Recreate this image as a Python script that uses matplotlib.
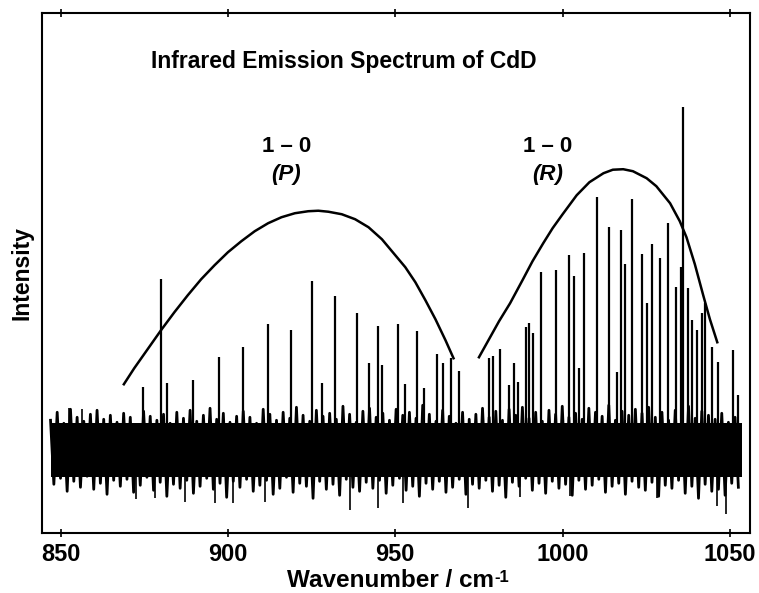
import numpy as np
import matplotlib.pyplot as plt

plt.rcParams['font.family'] = ['Liberation Sans', 'DejaVu Sans']
plt.rcParams['font.weight'] = 'bold'

# noise band: upper and lower excursions, read every ~2 cm-1 from 847 to 1053.5
noise_top = [30, 38, 27, 41, 33, 29, 36, 40, 31, 35,
             28, 37, 33, 25, 39, 34, 30, 36, 27, 38,
             32, 40, 29, 35, 42, 31, 37, 28, 34, 39,
             33, 27, 41, 36, 30, 38, 32, 43, 35, 29,
             40, 34, 37, 31, 44, 36, 28, 39, 42, 33,
             37, 30, 41, 35, 38, 32, 45, 36, 29, 40,
             34, 27, 38, 31, 36, 42, 33, 39, 30, 41,
             35, 43, 32, 38, 29, 40, 36, 44, 33, 37,
             31, 42, 38, 34, 45, 30, 39, 35, 41, 37,
             43, 33, 38, 30, 40, 36, 44, 32, 39, 35,
             31, 37, 28, 33]
noise_bot = [-34, -28, -41, -31, -37, -26, -39, -33, -44, -30,
             -36, -29, -42, -35, -27, -40, -32, -46, -34, -38,
             -30, -43, -36, -28, -39, -33, -47, -31, -37, -29,
             -41, -35, -30, -44, -38, -27, -42, -33, -36, -48,
             -31, -39, -34, -45, -29, -37, -41, -32, -38, -30,
             -43, -35, -28, -40, -36, -46, -33, -39, -31, -42,
             -37, -29, -44, -34, -38, -30, -41, -35, -47, -32,
             -36, -28, -40, -33, -43, -31, -38, -34, -45, -30,
             -39, -35, -29, -42, -36, -33, -44, -31, -37, -40,
             -32, -46, -35, -38, -30, -43, -36, -48, -34, -41,
             -39, -45, -33, -37]
noise_start, noise_end = 847.0, 1053.5

# single noise spikes reaching past the band
spike_dn_wn = [872.4, 878.3, 887.3, 896.2, 901.6, 911.2, 936.5, 944.9, 952.4,
               971.8, 987.3, 1002.2, 1028.1, 1046.0, 1048.8]
spike_dn_h = [-49, -48, -52, -53, -53, -52, -60, -58, -53, -58, -47, -46, -48, -56, -64]
spike_up_wn = [852.4, 856.5]
spike_up_h = [42, 41]

# rotational lines
line_wn = [874.5, 880.1, 881.9, 889.6, 897.2, 904.5, 911.9, 918.7, 925.2, 928.2,
           931.9, 938.5, 942.1, 944.7, 946.0, 950.7, 953.0, 956.6, 958.7, 962.4,
           964.2, 966.6, 968.9,
           978.1, 979.1, 981.3, 984.1, 985.5, 986.8, 989.0, 990.1, 991.1, 993.5,
           997.9, 1002.0, 1003.4, 1004.8, 1006.4, 1010.2, 1013.9, 1016.3, 1017.4,
           1018.6, 1020.6, 1023.6, 1025.1, 1026.6, 1029.1, 1031.6, 1033.9, 1035.5,
           1035.9, 1037.6, 1038.8, 1040.2, 1041.6, 1042.5, 1044.5, 1046.5, 1050.8,
           1052.5]
line_h = [63, 171, 67, 70, 93, 103, 126, 120, 169, 67,
          154, 137, 87, 124, 85, 126, 66, 119, 62, 96,
          87, 92, 79,
          92, 94, 101, 65, 87, 68, 123, 127, 117, 178,
          180, 195, 174, 82, 197, 253, 223, 78, 220,
          186, 251, 196, 147, 206, 192, 227, 163, 183,
          343, 162, 130, 120, 137, 147, 103, 88, 100,
          55]

# envelope curves drawn over the branches
p_env_wn = [868.9, 872, 876, 880, 884, 888, 892, 896, 900, 904, 908, 912, 916, 920,
            924, 927, 930, 934, 938, 942, 946, 950, 953, 956, 959, 962, 965, 967.4]
p_env_h = [66, 82, 101, 120, 138, 155, 171, 185, 198, 209, 219, 227, 233, 237,
           239, 239.5, 238.5, 236, 231, 223, 211, 195, 183, 168, 150, 131, 110, 92]
r_env_wn = [975.0, 978, 981, 984.3, 988, 991, 994.2, 997, 1000, 1004.2, 1008, 1012.2,
            1015, 1018.1, 1021, 1025.1, 1028, 1032.1, 1035, 1037, 1039.5, 1042, 1044, 1046.2]
r_env_h = [93, 111, 129, 147, 170, 189, 207, 222, 236, 255, 268, 277,
           280.5, 281, 279, 272, 264, 247, 229, 213, 186, 155, 131, 108]

fig = plt.figure(figsize=(7.59, 5.93), dpi=100)
ax = fig.add_axes([0.0553, 0.1007, 0.9328, 0.8779])

# noise trace zig-zags between the read upper and lower excursions
n = len(noise_top)
step = (noise_end - noise_start) / n
zx, zy = [], []
for i in range(n):
    zx += [noise_start + i * step, noise_start + (i + 0.5) * step]
    zy += [noise_top[i], noise_bot[i]]
core = 27
ax.fill_between([noise_start, noise_end], [-core, -core], [core, core], color='black', lw=0)
ax.plot(zx, zy, color='black', lw=2.0)
ax.vlines(spike_dn_wn, 0, spike_dn_h, color='black', lw=1.2)
ax.vlines(spike_up_wn, 0, spike_up_h, color='black', lw=1.2)
ax.vlines(line_wn, 0, line_h, color='black', lw=1.6)

ax.plot(p_env_wn, p_env_h, color='black', lw=1.8)
ax.plot(r_env_wn, r_env_h, color='black', lw=1.8)

ax.text(934.7, 389, 'Infrared Emission Spectrum of CdD', ha='center', va='center',
        fontsize=16.5, fontweight='bold')
ax.text(917.4, 304, '1 \u2013 0', ha='center', va='center', fontsize=16, fontweight='bold')
ax.text(917.4, 276, '(P)', ha='center', va='center', fontsize=16, fontweight='bold', style='italic')
ax.text(995.4, 304, '1 \u2013 0', ha='center', va='center', fontsize=16, fontweight='bold')
ax.text(995.4, 276, '(R)', ha='center', va='center', fontsize=16, fontweight='bold', style='italic')

ax.set_xlim(844.44, 1055.97)
ax.set_ylim(-83, 437.5)
ax.set_xticks([850, 900, 950, 1000, 1050])
ax.set_yticks([])
ax.tick_params(axis='x', direction='inout', length=6, width=1.2, top=True,
               labelsize=17, pad=4)
for lab in ax.get_xticklabels():
    lab.set_fontweight('bold')
for sp in ax.spines.values():
    sp.set_linewidth(1.5)

xl = ax.set_xlabel('Wavenumber / cm', fontsize=17.5, fontweight='bold', labelpad=2)
ax.set_ylabel('Intensity', fontsize=16.5, fontweight='bold', labelpad=6)

# superscript "-1" after the x label
xl.set_x(0.5 - 0.008)
fig.canvas.draw()
bb = xl.get_window_extent()
fig.text(bb.x1 / fig.bbox.width + 0.001, bb.y1 / fig.bbox.height - 0.002, '-1',
         fontsize=12, fontweight='bold', ha='left', va='top')

fig.savefig('out.png', dpi=100)
